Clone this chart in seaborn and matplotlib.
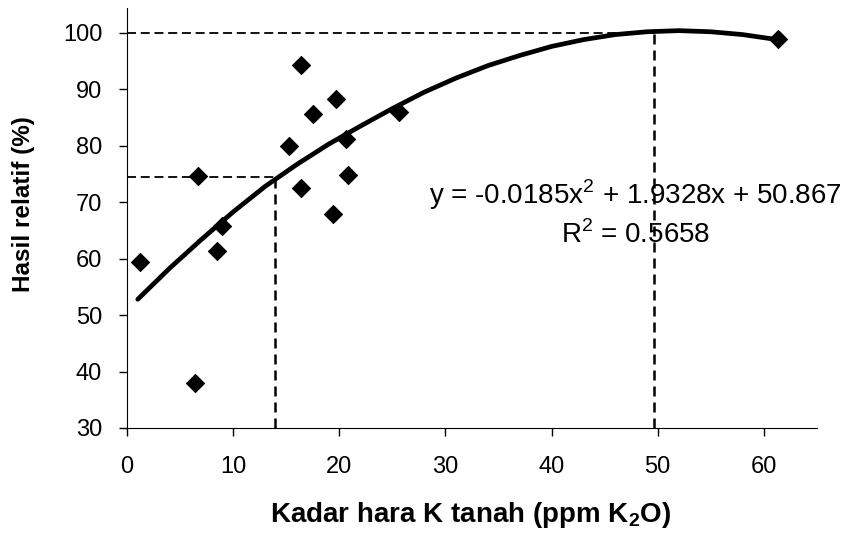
import pandas as pd
import matplotlib
matplotlib.use("Agg")
import matplotlib.pyplot as plt
import seaborn as sns

# data
kadar_k = [1.2, 6.4, 6.7, 8.5, 8.9, 15.3, 16.4, 16.4, 17.5, 19.7, 19.4, 20.6, 20.8, 25.6, 61.3]
hasil = [59.4, 38.0, 74.7, 61.4, 65.8, 80.0, 94.3, 72.5, 85.6, 88.3, 67.9, 81.2, 74.8, 86.0, 98.9]

# trend curve as drawn in the picture
curve_x = [1, 4, 7, 10, 13, 16, 19, 22, 25, 28, 31, 34, 37, 40, 43, 46, 49, 52, 55, 58, 61.3]
curve_y = [52.8, 58.3, 63.4, 68.3, 72.8, 76.7, 80.3, 83.5, 86.6, 89.5, 92.0, 94.2,
           96.0, 97.6, 98.8, 99.7, 100.2, 100.4, 100.2, 99.7, 98.8]

x_tick_labels = [0, 10, 20, 30, 40, 50, 60]
y_tick_labels = [30, 40, 50, 60, 70, 80, 90, 100]
equation = "y = -0.0185x$^2$ + 1.9328x + 50.867"
r_squared = "R$^2$ = 0.5658"

# critical level guide lines
x_crit_hi, y_crit_hi = 49.7, 100
x_crit_lo, y_crit_lo = 13.9, 74.5

sns.set_style("ticks")
plt.rcParams["font.family"] = ["Liberation Sans", "DejaVu Sans"]
plt.rcParams["mathtext.fontset"] = "custom"
plt.rcParams["mathtext.rm"] = "Liberation Sans"
plt.rcParams["mathtext.bf"] = "Liberation Sans:bold"
plt.rcParams["text.color"] = "black"
plt.rcParams["axes.labelcolor"] = "black"
plt.rcParams["xtick.color"] = "black"
plt.rcParams["ytick.color"] = "black"
plt.rcParams["axes.edgecolor"] = "black"

df = pd.DataFrame({"x": kadar_k, "y": hasil})
fit = pd.DataFrame({"x": curve_x, "y": curve_y})

fig = plt.figure(figsize=(8.58, 5.37), dpi=100)
ax = fig.add_axes([0.1445, 0.203, 0.8075, 0.782])

xmin, ymin = 0, 30
ax.plot([xmin, x_crit_hi], [y_crit_hi, y_crit_hi], color="black", lw=1.3, dashes=(5, 2.6))
ax.plot([x_crit_hi, x_crit_hi], [ymin, y_crit_hi], color="black", lw=1.8, dashes=(4, 2.4))
ax.plot([xmin, x_crit_lo], [y_crit_lo, y_crit_lo], color="black", lw=1.3, dashes=(5, 2.6))
ax.plot([x_crit_lo, x_crit_lo], [ymin, y_crit_lo], color="black", lw=1.8, dashes=(4, 2.4))

sns.lineplot(data=fit, x="x", y="y", color="black", lw=3.4, ax=ax)
sns.scatterplot(data=df, x="x", y="y", marker="D", s=85, color="black",
                edgecolor="black", ax=ax, zorder=5)

ax.text(47.9, 71.3, equation, ha="center", va="center", fontsize=20, clip_on=False)
ax.text(47.9, 64.2, r_squared, ha="center", va="center", fontsize=20)

ax.set_xlim(-0.3, 65)
ax.set_ylim(30, 104.4)
ax.set_xticks(x_tick_labels)
ax.set_yticks(y_tick_labels)
ax.tick_params(labelsize=17, length=6, width=1)
ax.tick_params(axis="x", pad=14)
ax.tick_params(axis="y", pad=12)
sns.despine(ax=ax)
ax.spines["left"].set_position(("data", 0))
ax.spines["bottom"].set_position(("data", 30))

ax.set_xlabel("Kadar hara K tanah (ppm K$_\\mathbf{2}$O)", fontsize=20, fontweight="bold", labelpad=16)
ax.set_ylabel("Hasil relatif (%)", fontsize=17.5, fontweight="bold")
ax.yaxis.set_label_coords(-0.128, 0.533)

fig.savefig("out.png", dpi=100)
